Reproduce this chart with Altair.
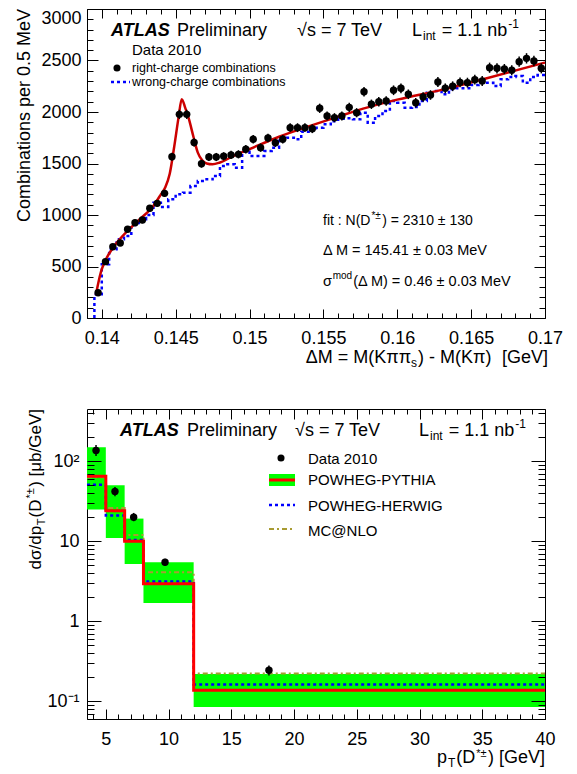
import math
import altair as alt
import pandas as pd

FONT = "Liberation Sans"

# ---------------- top panel: Delta M distribution ----------------
FIRST_EDGE = 0.1395
BIN_W = 0.0005
right_counts = [245, 547, 692, 728, 861, 925, 951, 1065, 1113, 1210,
                1566, 1977, 1977, 1705, 1498, 1563, 1563, 1570, 1583, 1589,
                1638, 1735, 1654, 1748, 1702, 1735, 1848, 1848, 1848, 1838,
                2036, 1961, 1945, 1961, 2045, 1993, 2197, 2075, 2100, 2107,
                2211, 2230, 2172, 2090, 2146, 2165, 2291, 2230, 2250, 2288,
                2285, 2314, 2301, 2430, 2424, 2417, 2405, 2489, 2521, 2495, 2424]
wrong_counts = [230, 521, 667, 764, 796, 903, 958, 1000, 1119, 1078,
                1152, 1201, 1217, 1282, 1330, 1346, 1379, 1476, 1492, 1459,
                1615, 1573, 1573, 1621, 1654, 1745, 1751, 1735, 1809, 1842,
                1848, 1880, 1910, 1935, 1939, 1929, 1993, 1896, 1961, 2010,
                2107, 2090, 2042, 2048, 2107, 2188, 2204, 2172, 2220, 2230,
                2230, 2262, 2285, 2285, 2252, 2317, 2340, 2350, 2285, 2340, 2359]
fit_dm = [0.13960, 0.13975, 0.13995, 0.14025, 0.14075, 0.14150, 0.14250, 0.14350,
          0.14400, 0.14430, 0.14460, 0.14490, 0.14520, 0.14541, 0.14565, 0.14590,
          0.14620, 0.14650, 0.14680, 0.14710, 0.14750, 0.14800, 0.14900, 0.15000,
          0.15200, 0.15400, 0.15600, 0.15800, 0.16000, 0.16300, 0.16600, 0.17000]
fit_val = [220, 330, 450, 560, 680, 810, 950, 1090,
           1200, 1270, 1400, 1660, 1950, 2125, 2040, 1930,
           1762, 1605, 1530, 1500, 1492, 1510, 1580, 1640,
           1760, 1860, 1955, 2045, 2120, 2215, 2325, 2480]

# ---------------- bottom panel: pT spectrum ----------------
pt_lo = [3.5, 5, 6.5, 8, 12]
pt_hi = [5, 6.5, 8, 12, 40]
band_low = [24.9, 11, 5.2, 1.69, 0.085]
band_high = [150, 50, 19.2, 5.47, 0.219]
pythia = [65, 24, 10.0, 2.95, 0.137]
herwig = [51, 21, 10.4, 3.15, 0.162]
mcnlo = [63, 26, 12, 4.1, 0.222]
data_pt = [4.22, 5.73, 7.22, 9.72, 18.0]
data_xs = [136, 42, 20, 5.47, 0.244]
data_lo = [116, 36.5, 17.8, 4.95, 0.21]
data_hi = [160, 47.5, 22.6, 6.05, 0.28]

# ---------------- helpers ----------------
W = {' ': 278, '!': 278, '(': 333, ')': 333, '*': 389, '+': 584, ',': 278, '-': 333,
     '.': 278, '/': 278, ':': 278, '=': 584, '@': 1015, '[': 278, ']': 278,
     'A': 667, 'B': 667, 'C': 722, 'D': 722, 'E': 667, 'F': 611, 'G': 778, 'H': 722,
     'I': 278, 'J': 500, 'K': 667, 'L': 556, 'M': 833, 'N': 722, 'O': 778, 'P': 667,
     'Q': 778, 'R': 722, 'S': 667, 'T': 611, 'U': 722, 'V': 667, 'W': 944, 'X': 667,
     'Y': 667, 'Z': 611, 'a': 556, 'b': 556, 'c': 500, 'd': 556, 'e': 556, 'f': 278,
     'g': 556, 'h': 556, 'i': 222, 'j': 222, 'k': 500, 'l': 222, 'm': 833, 'n': 556,
     'o': 556, 'p': 556, 'q': 556, 'r': 333, 's': 500, 't': 278, 'u': 556, 'v': 500,
     'w': 722, 'x': 500, 'y': 500, 'z': 500, '±': 584, 'Δ': 668, 'σ': 600, 'π': 660,
     'μ': 576, '√': 549}
WB = {'A': 722, 'T': 611, 'L': 611, 'S': 667}


def tw(s, size, bold=False):
    tot = 0
    for ch in s:
        if bold and ch in WB:
            tot += WB[ch]
        else:
            tot += W.get(ch, 556)
    return tot * size / 1000.0


ONE = alt.Data(values=[{}])


def txt(s, x, y, size=15, align='left', baseline='alphabetic', angle=0, bold=False, italic=False):
    kw = {}
    if bold:
        kw['fontWeight'] = 'bold'
    if italic:
        kw['fontStyle'] = 'italic'
    return alt.Chart(ONE).mark_text(text=s, font=FONT, fontSize=size, align=align,
                                    baseline=baseline, angle=angle, color='black', **kw
                                    ).encode(x=alt.value(x), y=alt.value(y))


GAP = 1.0


def rich(pieces, x, y, align='left', vertical=False):
    """pieces: (text, size, shift, bold); shift<0 = superscript.
    Leading spaces are turned into an advance (SVG would collapse them)."""
    prepared = []
    for t, s, sh, b in pieces:
        lead = len(t) - len(t.lstrip(' '))
        core = t.strip(' ')
        adv = lead * W[' '] * s / 1000.0
        prepared.append((core, s, sh, b, adv))
    total = sum(adv + tw(c, s, b) + GAP for c, s, sh, b, adv in prepared) - GAP
    out = []
    if not vertical:
        cur = x - total if align == 'right' else x
        for c, s, sh, b, adv in prepared:
            cur += adv
            out.append(txt(c, cur, y + sh, s, bold=b))
            cur += tw(c, s, b) + GAP
    else:
        cur = y + total if align == 'right' else y
        for c, s, sh, b, adv in prepared:
            cur -= adv
            out.append(txt(c, x + sh, cur, s, angle=270, bold=b))
            cur -= tw(c, s, b) + GAP
    return out


def seg(x1, x2, y1, color, width, dash=None):
    kw = {'strokeDash': dash} if dash else {}
    return alt.Chart(ONE).mark_rule(color=color, strokeWidth=width, **kw).encode(
        x=alt.value(x1), x2=alt.value(x2), y=alt.value(y1))


def dot(x, y):
    return alt.Chart(ONE).mark_circle(size=50, color='black', opacity=1).encode(
        x=alt.value(x), y=alt.value(y))


def axis_layers(dummy, xs, ys, xmaj, xmin, ymaj, ymin, xL, xl, yL, yl, xpad, ypad, x_extra, y_extra):
    base = dict(domain=False, grid=False, title=None, tickColor='black', tickWidth=1, zindex=1)
    lab = dict(labelFont=FONT, labelFontSize=18, labelColor='black', labelOverlap=False, labelFlush=False)

    def lay(xa, ya):
        return alt.Chart(dummy).mark_point(opacity=0).encode(
            x=alt.X('x:Q', scale=xs, axis=xa), y=alt.Y('y:Q', scale=ys, axis=ya))
    return [
        lay(alt.Axis(orient='bottom', values=xmaj, tickSize=xL, offset=-xL, labelPadding=xpad, **base, **lab, **x_extra),
            alt.Axis(orient='left', values=ymaj, tickSize=yL, offset=-yL, labelPadding=ypad, **base, **lab, **y_extra)),
        lay(alt.Axis(orient='bottom', values=xmin, tickSize=xl, offset=-xl, labels=False, **base),
            alt.Axis(orient='left', values=ymin, tickSize=yl, offset=-yl, labels=False, **base)),
        lay(alt.Axis(orient='top', values=xmaj, tickSize=xL, offset=-xL, labels=False, **base),
            alt.Axis(orient='right', values=ymaj, tickSize=yL, offset=-yL, labels=False, **base)),
        lay(alt.Axis(orient='top', values=xmin, tickSize=xl, offset=-xl, labels=False, **base),
            alt.Axis(orient='right', values=ymin, tickSize=yl, offset=-yl, labels=False, **base)),
    ]


# ================= TOP PANEL =================
n = len(right_counts)
centers = [round(FIRST_EDGE + BIN_W * (i + 0.5), 5) for i in range(n)]
edges = [round(FIRST_EDGE + BIN_W * i, 5) for i in range(n + 1)]

df_right = pd.DataFrame({'dm': centers, 'n': right_counts})
df_right['lo'] = [v - math.sqrt(v) for v in right_counts]
df_right['hi'] = [v + math.sqrt(v) for v in right_counts]

wx = [edges[0]] + edges
wy = [0] + wrong_counts + [wrong_counts[-1]]
df_wrong = pd.DataFrame({'dm': wx, 'n': wy, 'k': list(range(len(wx)))})
df_fit = pd.DataFrame({'dm': fit_dm, 'n': fit_val})

xs_t = alt.Scale(domain=[0.139, 0.17], nice=False, zero=False)
ys_t = alt.Scale(domain=[0, 3000], nice=False, zero=False)
RED_T = '#cc0000'
BLUE = '#0000ff'

top_layers = []
top_layers.append(alt.Chart(df_wrong).mark_line(color=BLUE, strokeWidth=2.5, strokeDash=[3, 3],
                                                 interpolate='step-after').encode(
    x=alt.X('dm:Q', scale=xs_t, axis=None), y=alt.Y('n:Q', scale=ys_t, axis=None), order='k:Q'))
top_layers.append(alt.Chart(df_fit).mark_line(color=RED_T, strokeWidth=2.5, interpolate='monotone').encode(
    x=alt.X('dm:Q', scale=xs_t, axis=None), y=alt.Y('n:Q', scale=ys_t, axis=None)))
top_layers.append(alt.Chart(df_right).mark_rule(color='black', strokeWidth=1.5).encode(
    x=alt.X('dm:Q', scale=xs_t, axis=None), y=alt.Y('lo:Q', scale=ys_t, axis=None), y2='hi:Q'))
top_layers.append(alt.Chart(df_right).mark_circle(size=55, color='black', opacity=1).encode(
    x=alt.X('dm:Q', scale=xs_t, axis=None), y=alt.Y('n:Q', scale=ys_t, axis=None)))

# header texts
top_layers.append(txt('ATLAS', 24, 27, 18, bold=True, italic=True))
top_layers.append(txt('Preliminary', 90, 27, 18))
top_layers.append(txt('√s = 7 TeV', 210, 27, 18))
top_layers += rich([('L', 18, 0, False), ('int', 12, 4, False), (' = 1.1 nb', 18, 0, False),
                    ('-1', 12, -8, False)], 325, 27)
top_layers.append(txt('Data 2010', 45, 46, 15))
top_layers.append(dot(30, 59))
top_layers.append(txt('right-charge combinations', 45, 63, 12.5))
top_layers.append(seg(24, 43, 73, BLUE, 2.5, [3, 3]))
top_layers.append(txt('wrong-charge combinations', 45, 77, 12.5))
# fit results
top_layers += rich([('fit : N(D', 14, 0, False), ('*±', 10, -6, False), (') = 2310 ± 130', 14, 0, False)], 236, 216)
top_layers.append(txt('Δ M = 145.41 ± 0.03 MeV', 236, 246, 14.5))
top_layers += rich([('σ', 14.5, 0, False), ('mod', 10, -7, False), ('(Δ M) = 0.46 ± 0.03 MeV', 14.5, 0, False)], 236, 277)
# axis titles
top_layers += rich([('ΔM = M(Kππ', 18, 0, False), ('s', 12, 4, False), (') - M(Kπ)', 18, 0, False),
                    ('  [GeV]', 18, 0, False)], 461, 354, align='right')
top_layers.append(txt('Combinations per 0.5 MeV', -57, 0, 18, align='right', angle=270))

dummy_t = pd.DataFrame({'x': [0.155], 'y': [1000]})
x_maj_t = [0.14, 0.145, 0.15, 0.155, 0.16, 0.165, 0.17]
x_min_t = [round(0.139 + 0.001 * i, 3) for i in range(32) if (i - 1) % 5 != 0]
y_maj_t = [0, 500, 1000, 1500, 2000, 2500, 3000]
y_min_t = [100 * i for i in range(1, 30) if i % 5 != 0]
top_layers += axis_layers(
    dummy_t, xs_t, ys_t, x_maj_t, x_min_t, y_maj_t, y_min_t, 9, 5, 11, 6, 11, 6,
    dict(format='~g'),
    dict(format='d', labelBaseline={'condition': {'test': 'datum.value >= 2999', 'value': 'top'},
                                    'value': 'middle'}))

top = alt.layer(*top_layers).resolve_axis(x='independent', y='independent').properties(width=458, height=309)

# ================= BOTTOM PANEL =================
xs_b = alt.Scale(domain=[3.5, 40], nice=False, zero=False)
ys_b = alt.Scale(type='log', domain=[0.06, 450], nice=False)
GREEN = '#00ff00'
RED_B = '#ff0000'
TAN = '#a89b32'

edges_b = pt_lo + [pt_hi[-1]]


def step_df(vals):
    return pd.DataFrame({'pt': edges_b, 'v': vals + [vals[-1]], 'k': list(range(len(edges_b)))})


df_band = pd.DataFrame({'lo': pt_lo, 'hi': pt_hi, 'bl': band_low, 'bh': band_high})
df_data = pd.DataFrame({'pt': data_pt, 'v': data_xs, 'lo': data_lo, 'hi': data_hi})

bot_layers = []
bot_layers.append(alt.Chart(df_band).mark_rect(color=GREEN).encode(
    x=alt.X('lo:Q', scale=xs_b, axis=None), x2='hi:Q',
    y=alt.Y('bl:Q', scale=ys_b, axis=None), y2='bh:Q'))
for vals, col, wdt, dash in [(mcnlo, TAN, 2, [5, 3, 2, 3]), (herwig, BLUE, 2.5, [3, 3]),
                             (pythia, RED_B, 3, None)]:
    kw = {'strokeDash': dash} if dash else {}
    bot_layers.append(alt.Chart(step_df(vals)).mark_line(color=col, strokeWidth=wdt,
                                                         interpolate='step-after', **kw).encode(
        x=alt.X('pt:Q', scale=xs_b, axis=None), y=alt.Y('v:Q', scale=ys_b, axis=None), order='k:Q'))
bot_layers.append(alt.Chart(df_data).mark_rule(color='black', strokeWidth=1.5).encode(
    x=alt.X('pt:Q', scale=xs_b, axis=None), y=alt.Y('lo:Q', scale=ys_b, axis=None), y2='hi:Q'))
bot_layers.append(alt.Chart(df_data).mark_circle(size=55, color='black', opacity=1).encode(
    x=alt.X('pt:Q', scale=xs_b, axis=None), y=alt.Y('v:Q', scale=ys_b, axis=None)))

bot_layers.append(txt('ATLAS', 33, 27, 18, bold=True, italic=True))
bot_layers.append(txt('Preliminary', 100, 27, 18))
bot_layers.append(txt('√s = 7 TeV', 208, 27, 18))
bot_layers += rich([('L', 18, 0, False), ('int', 12, 4, False), (' = 1.1 nb', 18, 0, False),
                    ('-1', 12, -8, False)], 332, 27)
# legend
bot_layers.append(dot(194, 49))
bot_layers.append(txt('Data 2010', 221, 55, 15))
bot_layers.append(alt.Chart(ONE).mark_rect(color=GREEN).encode(
    x=alt.value(182), x2=alt.value(208), y=alt.value(65), y2=alt.value(77)))
bot_layers.append(seg(182, 208, 71, RED_B, 3))
bot_layers.append(txt('POWHEG-PYTHIA', 221, 76, 15))
bot_layers.append(seg(182, 208, 96, BLUE, 2.5, [3, 3]))
bot_layers.append(txt('POWHEG-HERWIG', 221, 102, 15))
bot_layers.append(seg(182, 208, 120, TAN, 2, [5, 3, 2, 3]))
bot_layers.append(txt('MC@NLO', 221, 127, 15))
# axis titles
bot_layers += rich([('p', 18, 0, False), ('T', 12, 4, False), ('(D', 18, 0, False), ('*±', 11, -6, False),
                    (') [GeV]', 18, 0, False)], 458, 354, align='right')
bot_layers += rich([('dσ/dp', 17, 0, False), ('T', 11, 4, False), ('(D', 17, 0, False), ('*±', 11, -7, False),
                    (') [μb/GeV]', 17, 0, False)], -46, 0, align='right', vertical=True)
# invisible left-bound anchor (white on white)
bot_layers.append(alt.Chart(ONE).mark_rule(color='white', strokeWidth=1).encode(
    x=alt.value(-77.5), x2=alt.value(-76), y=alt.value(358)))

dummy_b = pd.DataFrame({'x': [20], 'y': [1.0]})
x_maj_b = [5, 10, 15, 20, 25, 30, 35, 40]
x_min_b = [v for v in range(4, 40) if v % 5 != 0]
y_maj_b = [0.1, 1, 10, 100]
y_min_b = [0.06, 0.07, 0.08, 0.09, 0.2, 0.3, 0.4, 0.5, 0.6, 0.7, 0.8, 0.9,
           2, 3, 4, 5, 6, 7, 8, 9, 20, 30, 40, 50, 60, 70, 80, 90, 200, 300, 400]
bot_layers += axis_layers(
    dummy_b, xs_b, ys_b, x_maj_b, x_min_b, y_maj_b, y_min_b, 10, 5, 14, 7, 11, 8,
    dict(format='~g'),
    dict(labelExpr="datum.value > 50 ? '10²' : datum.value > 5 ? '10' : datum.value > 0.5 ? '1' : '10⁻¹'"))

bottom = alt.layer(*bot_layers).resolve_axis(x='independent', y='independent').properties(width=458, height=310)

chart = alt.vconcat(top, bottom, spacing=91, bounds='flush',
                    padding={'left': 0, 'top': 0, 'right': 5, 'bottom': 0}
                    ).configure_view(stroke='black', strokeWidth=1)
chart.save("out.html", embed_options={"renderer": "svg", "actions": False})
